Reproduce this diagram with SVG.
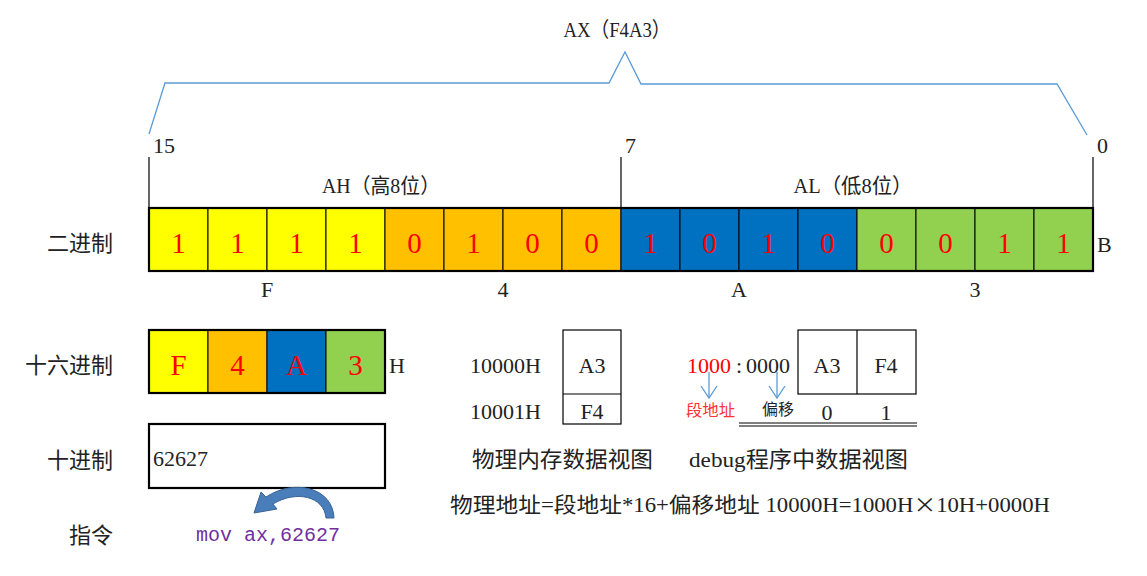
<svg xmlns="http://www.w3.org/2000/svg" width="1147" height="576" viewBox="0 0 1147 576">
<style>
.t{font-family:"Liberation Serif","Noto Sans CJK SC",serif;fill:#222;}
.c{font-family:"Noto Sans CJK SC","Liberation Serif",sans-serif;fill:#222;}
.d{font-family:"Liberation Serif","Noto Sans CJK SC",serif;fill:#FF0000;font-size:29px;text-anchor:middle;}
.cell{stroke:#000;stroke-width:1;}
.y{fill:#FFFF00;}.o{fill:#FFC000;}.b{fill:#0070C0;}.g{fill:#92D050;}
.frame{fill:none;stroke:#000;stroke-width:2.2;}
.thin{fill:none;stroke:#000;stroke-width:1.2;}
.blue{fill:none;stroke:#5B9BD5;stroke-width:1.3;}
</style>
<rect width="1147" height="576" fill="#fff"/>

<g id="brace">
<polyline class="blue" points="149,134 165,83 609,83 625,52 641,84 1057,84 1087,135"/>
<text class="t" x="617" y="37" font-size="21" text-anchor="middle" textLength="107" lengthAdjust="spacingAndGlyphs">AX（F4A3）</text>
</g>

<g id="bit-markers">
<line class="thin" x1="149" y1="157" x2="149" y2="208"/>
<line class="thin" x1="621" y1="157" x2="621" y2="208"/>
<line class="thin" x1="1093" y1="157" x2="1093" y2="208"/>
<text class="t" x="153" y="153" font-size="22">15</text>
<text class="t" x="625" y="153" font-size="22">7</text>
<text class="t" x="1097" y="153" font-size="22">0</text>
<text class="t" x="381" y="193" font-size="21" text-anchor="middle" textLength="118" lengthAdjust="spacingAndGlyphs">AH（高8位）</text>
<text class="t" x="853" y="193" font-size="21" text-anchor="middle" textLength="119" lengthAdjust="spacingAndGlyphs">AL（低8位）</text>
</g>

<g id="labels">
<text class="c" x="113" y="251" font-size="22" text-anchor="end">二进制</text>
<text class="c" x="113" y="373" font-size="22" text-anchor="end">十六进制</text>
<text class="c" x="113" y="468" font-size="22" text-anchor="end">十进制</text>
<text class="c" x="113" y="543" font-size="22" text-anchor="end">指令</text>
</g>

<g id="binary">
<rect class="cell y" x="149" y="208" width="59" height="63"/>
<rect class="cell y" x="208" y="208" width="59" height="63"/>
<rect class="cell y" x="267" y="208" width="59" height="63"/>
<rect class="cell y" x="326" y="208" width="59" height="63"/>
<rect class="cell o" x="385" y="208" width="59" height="63"/>
<rect class="cell o" x="444" y="208" width="59" height="63"/>
<rect class="cell o" x="503" y="208" width="59" height="63"/>
<rect class="cell o" x="562" y="208" width="59" height="63"/>
<rect class="cell b" x="621" y="208" width="59" height="63"/>
<rect class="cell b" x="680" y="208" width="59" height="63"/>
<rect class="cell b" x="739" y="208" width="59" height="63"/>
<rect class="cell b" x="798" y="208" width="59" height="63"/>
<rect class="cell g" x="857" y="208" width="59" height="63"/>
<rect class="cell g" x="916" y="208" width="59" height="63"/>
<rect class="cell g" x="975" y="208" width="59" height="63"/>
<rect class="cell g" x="1034" y="208" width="59" height="63"/>
<rect class="frame" x="149" y="208" width="944" height="63"/>
<text class="d" x="178.5" y="253">1</text>
<text class="d" x="237.5" y="253">1</text>
<text class="d" x="296.5" y="253">1</text>
<text class="d" x="355.5" y="253">1</text>
<text class="d" x="414.5" y="253">0</text>
<text class="d" x="473.5" y="253">1</text>
<text class="d" x="532.5" y="253">0</text>
<text class="d" x="591.5" y="253">0</text>
<text class="d" x="650.5" y="253">1</text>
<text class="d" x="709.5" y="253">0</text>
<text class="d" x="768.5" y="253">1</text>
<text class="d" x="827.5" y="253">0</text>
<text class="d" x="886.5" y="253">0</text>
<text class="d" x="945.5" y="253">0</text>
<text class="d" x="1004.5" y="253">1</text>
<text class="d" x="1063.5" y="253">1</text>
<text class="t" x="1097" y="252" font-size="22">B</text>
<text class="t" x="267" y="297" font-size="22" text-anchor="middle">F</text>
<text class="t" x="503" y="297" font-size="22" text-anchor="middle">4</text>
<text class="t" x="739" y="297" font-size="22" text-anchor="middle">A</text>
<text class="t" x="975" y="297" font-size="22" text-anchor="middle">3</text>
</g>

<g id="hex">
<rect class="cell y" x="149" y="330" width="59" height="63"/>
<rect class="cell o" x="208" y="330" width="59" height="63"/>
<rect class="cell b" x="267" y="330" width="59" height="63"/>
<rect class="cell g" x="326" y="330" width="59" height="63"/>
<rect class="frame" x="149" y="330" width="236" height="63"/>
<text class="d" x="178.5" y="375">F</text>
<text class="d" x="237.5" y="375">4</text>
<text class="d" x="296.5" y="375">A</text>
<text class="d" x="355.5" y="375">3</text>
<text class="t" x="389" y="373" font-size="22">H</text>
</g>

<g id="decimal">
<rect class="frame" x="149" y="424" width="236" height="64" fill="#fff"/>
<text class="t" x="153" y="466" font-size="22">62627</text>
</g>

<g id="instruction">
<text x="196" y="541" font-family="Liberation Mono, monospace" font-size="20" fill="#7030A0">mov ax,62627</text>
</g>

<g id="connectors">
<path d="M 334 518 C 333 488, 295 478, 266 497 L 261 492 L 254 513 L 277 509 L 273 504 C 296 490, 324 496, 326 518 Z" fill="#4A7EBB" stroke="#3A6493" stroke-width="1"/>
<g class="blue">
<line x1="709" y1="372" x2="709" y2="398"/>
<polyline points="701,386 709,398 717,386"/>
<line x1="777" y1="372" x2="777" y2="398"/>
<polyline points="769,386 777,398 785,386"/>
</g>
</g>

<g id="physical-memory">
<text class="t" x="470" y="373" font-size="22">10000H</text>
<text class="t" x="470" y="419" font-size="22">10001H</text>
<rect class="thin" x="563" y="330" width="58" height="94"/>
<line class="thin" x1="563" y1="394" x2="621" y2="394"/>
<text class="t" x="592" y="373" font-size="22" text-anchor="middle">A3</text>
<text class="t" x="592" y="419" font-size="22" text-anchor="middle">F4</text>
<text class="c" x="472" y="467" font-size="22" textLength="181" lengthAdjust="spacingAndGlyphs">物理内存数据视图</text>
</g>

<g id="debug-view">
<text class="t" font-size="22" y="373"><tspan x="687" fill="#FF0000">1000</tspan><tspan x="736">:</tspan><tspan x="746">0000</tspan></text>
<rect class="thin" x="798" y="330" width="118" height="64"/>
<line class="thin" x1="857" y1="330" x2="857" y2="394"/>
<text class="t" x="827" y="373" font-size="22" text-anchor="middle">A3</text>
<text class="t" x="886" y="373" font-size="22" text-anchor="middle">F4</text>
<text class="c" x="686" y="416" font-size="16" style="fill:#FF3333" textLength="49" lengthAdjust="spacingAndGlyphs">段地址</text>
<text class="c" x="762" y="415" font-size="16" textLength="32" lengthAdjust="spacingAndGlyphs">偏移</text>
<text class="t" x="827" y="420" font-size="22" text-anchor="middle">0</text>
<text class="t" x="886" y="420" font-size="22" text-anchor="middle">1</text>
<line x1="739" y1="423" x2="917" y2="423" stroke="#000" stroke-width="1"/>
<line x1="739" y1="426" x2="917" y2="426" stroke="#000" stroke-width="1"/>
<text class="t" x="689" y="467" font-size="22" textLength="219" lengthAdjust="spacingAndGlyphs">debug程序中数据视图</text>
</g>

<g id="formula">
<text class="t" x="450" y="512" font-size="21" textLength="600" lengthAdjust="spacingAndGlyphs">物理地址=段地址*16+偏移地址 10000H=1000H<tspan font-family="Noto Sans CJK SC, sans-serif">×</tspan>10H+0000H</text>
</g>
</svg>
